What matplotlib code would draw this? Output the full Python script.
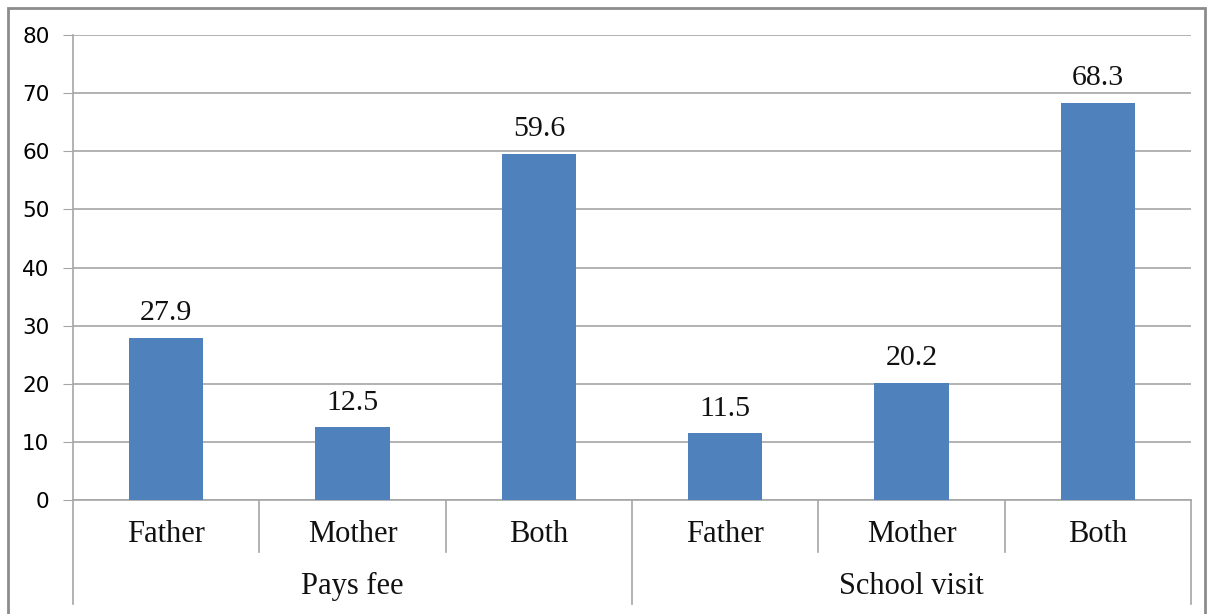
import numpy as np
import matplotlib.pyplot as plt
from matplotlib.patches import Rectangle
from matplotlib.lines import Line2D

# data
groups = ['Pays fee', 'School visit']
parents = ['Father', 'Mother', 'Both']
values = [27.9, 12.5, 59.6, 11.5, 20.2, 68.3]
yticks = [0, 10, 20, 30, 40, 50, 60, 70, 80]

W, H = 1210, 614
fig = plt.figure(figsize=(W / 100, H / 100), dpi=100)

# plot area in pixels
x0, x1 = 73, 1191
y0, y1 = 500, 35
ax = fig.add_axes([x0 / W, 1 - y0 / H, (x1 - x0) / W, (y0 - y1) / H])

grid_c = '#a6a6a6'
n = len(values)
x = np.arange(n)
ax.bar(x, values, width=0.4, color='#4f81bd', zorder=3)
for xi, v in zip(x, values):
    ax.text(xi, v + 2.0, f'{v:.1f}', ha='center', va='bottom',
            fontsize=21.5, family='Liberation Serif', color='#111111')

ax.set_xlim(-0.5, n - 0.5)
ax.set_ylim(0, 80)
ax.set_yticks(yticks)
ax.set_yticklabels([str(t) for t in yticks], family='DejaVu Sans', fontsize=15.5)
ax.tick_params(axis='y', length=7, color=grid_c, pad=10)
ax.set_xticks([])
ax.yaxis.grid(True, color=grid_c, linewidth=1.2, zorder=0)
for s in ['top', 'right']:
    ax.spines[s].set_visible(False)
ax.spines['left'].set_color(grid_c)
ax.spines['bottom'].set_color(grid_c)
ax.spines['left'].set_linewidth(1.2)
ax.spines['bottom'].set_linewidth(1.2)

# multi-level category axis
trans = ax.get_xaxis_transform()
ax_h = (y0 - y1)
def fy(py):
    return (y0 - py) / ax_h

for i in range(n + 1):
    xb = i - 0.5
    bottom = 604 if i % 3 == 0 else 552
    ax.add_line(Line2D([xb, xb], [0, fy(bottom)], transform=trans, color=grid_c,
                       linewidth=1.2, clip_on=False))
for i in range(n):
    ax.text(i, fy(535), parents[i % 3], transform=trans, ha='center', va='center',
            fontsize=22, family='Liberation Serif', color='#111111')
for g, name in enumerate(groups):
    ax.text(g * 3 + 1, fy(586), name, transform=trans, ha='center', va='center',
            fontsize=22, family='Liberation Serif', color='#111111')

# chart border
fig.patches.append(Rectangle((8 / W, -0.05), (1205 - 8) / W, 1 - 8 / H + 0.05,
                             transform=fig.transFigure, fill=False,
                             edgecolor='#8c8c8c', linewidth=2))

fig.savefig('out.png', dpi=100)
